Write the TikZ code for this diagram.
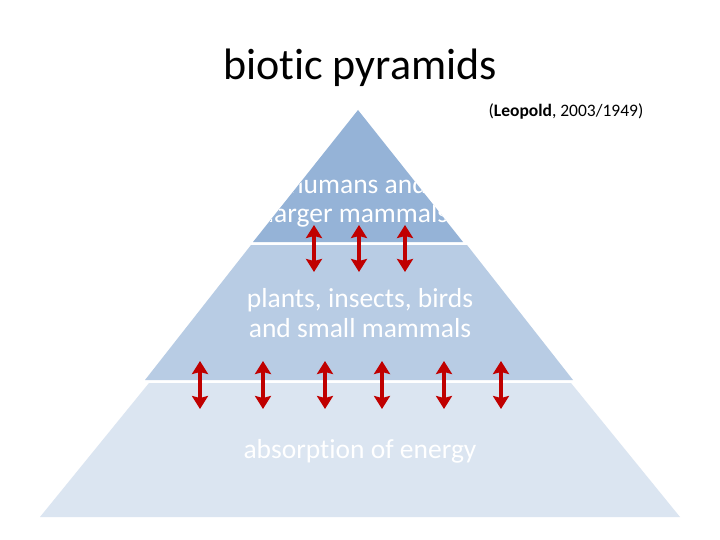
\documentclass[tikz,border=0pt]{standalone}
\usepackage{fontspec}
\setmainfont[Ligatures=NoCommon]{Carlito}
\usetikzlibrary{arrows.meta}
\definecolor{tierA}{HTML}{95B3D7}
\definecolor{tierB}{HTML}{B8CCE4}
\definecolor{tierC}{HTML}{DBE5F1}
\definecolor{arr}{HTML}{C00000}
\tikzset{
  tiertext/.style={text=white, font=\fontsize{27.5}{29.5}\selectfont, align=center, inner sep=0pt},
  dblarrow/.style={draw=arr, line width=4.6pt, {Stealth[length=13pt,width=16pt,inset=2pt]}-{Stealth[length=13pt,width=16pt,inset=2pt]}}
}
\begin{document}
\begin{tikzpicture}[x=1pt,y=-1pt]
\useasboundingbox (0,0) rectangle (720,540);
\fill[white] (0,0) rectangle (720,540);
% tiers
\fill[tierC] (149,383) -- (571,383) -- (680,517) -- (40,517) -- cycle;
\fill[tierB] (251,245) -- (467,245) -- (573,380) -- (145,380) -- cycle;
\fill[tierA] (358,110) -- (463,242) -- (253,242) -- cycle;
% title and citation
\node[font=\fontsize{44}{50}\selectfont, inner sep=0pt] (title) at (360,68) {biotic pyramids};
\node[font=\fontsize{17.5}{20}\selectfont, inner sep=0pt] (cite) at (566,111) {(\textbf{Leopold}, 2003/1949)};
% top tier text clipped
\begin{scope}
\clip (358,110) -- (463,242) -- (253,242) -- cycle;
\node[tiertext] (top) at (358,201) {humans and\\larger mammals};
\end{scope}
\node[tiertext] (mid) at (360,313) {plants, insects, birds\\and small mammals};
\node[tiertext] (bot) at (360,451) {absorption of energy};
% arrows
\foreach \x [count=\i] in {314,359,405}{
  \coordinate (ua\i) at (\x,225);
  \coordinate (ub\i) at (\x,272);
  \draw[dblarrow] (ua\i) -- (ub\i);
}
\foreach \x [count=\i] in {200,263,325,382,444,501}{
  \coordinate (la\i) at (\x,361);
  \coordinate (lb\i) at (\x,409);
  \draw[dblarrow] (la\i) -- (lb\i);
}
\end{tikzpicture}
\end{document}
